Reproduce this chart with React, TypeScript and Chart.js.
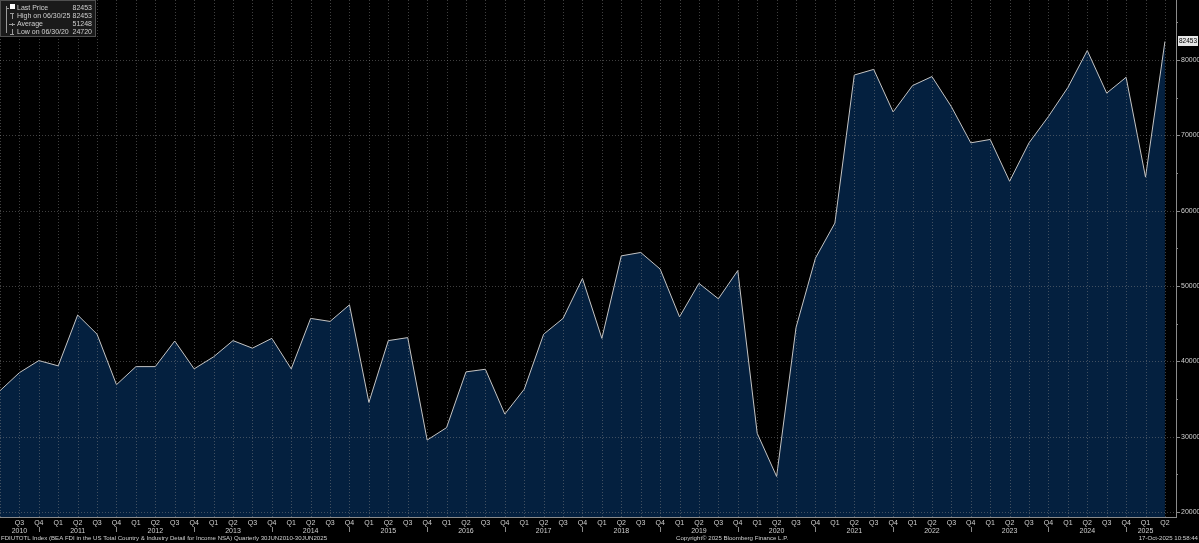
import React, { useEffect, useRef } from "react";
import Chart from "chart.js/auto";

const quarters: string[] = [
  "Q2 2010", "Q3 2010", "Q4 2010",
  "Q1 2011", "Q2 2011", "Q3 2011", "Q4 2011",
  "Q1 2012", "Q2 2012", "Q3 2012", "Q4 2012",
  "Q1 2013", "Q2 2013", "Q3 2013", "Q4 2013",
  "Q1 2014", "Q2 2014", "Q3 2014", "Q4 2014",
  "Q1 2015", "Q2 2015", "Q3 2015", "Q4 2015",
  "Q1 2016", "Q2 2016", "Q3 2016", "Q4 2016",
  "Q1 2017", "Q2 2017", "Q3 2017", "Q4 2017",
  "Q1 2018", "Q2 2018", "Q3 2018", "Q4 2018",
  "Q1 2019", "Q2 2019", "Q3 2019", "Q4 2019",
  "Q1 2020", "Q2 2020", "Q3 2020", "Q4 2020",
  "Q1 2021", "Q2 2021", "Q3 2021", "Q4 2021",
  "Q1 2022", "Q2 2022", "Q3 2022", "Q4 2022",
  "Q1 2023", "Q2 2023", "Q3 2023", "Q4 2023",
  "Q1 2024", "Q2 2024", "Q3 2024", "Q4 2024",
  "Q1 2025", "Q2 2025",
];

const values: number[] = [
  36100, 38500, 40100,
  39400, 46150, 43600, 36900,
  39300, 39300, 42700, 39000,
  40600, 42750, 41750, 43050,
  39000, 45700, 45300, 47500,
  34550, 42750, 43150, 29550,
  31200, 38600, 38950, 33000,
  36300, 43600, 45700, 51000,
  43050, 54000, 54450, 52250,
  45900, 50350, 48300, 52050,
  30450, 24720, 44500, 53700,
  58350, 78000, 78750, 73100,
  76600, 77800, 73800, 69000,
  69450, 63900, 69000, 72500,
  76350, 81250, 75600, 77700,
  64450, 82453,
];

const yTicks: number[] = [20000, 30000, 40000, 50000, 60000, 70000, 80000];
const yMinorTicks: number[] = [25000, 35000, 45000, 55000, 65000, 75000, 85000];

const legendRows: { label: string; value: string }[] = [
  { label: "Last Price", value: "82453" },
  { label: "High on 06/30/25", value: "82453" },
  { label: "Average", value: "51248" },
  { label: "Low on 06/30/20", value: "24720" },
];

const footerLeft =
  "FDIUTOTL Index (BEA FDI in the US Total Country & Industry Detail for Income NSA) Quarterly 30JUN2010-30JUN2025";
const footerCenter = "Copyright\u00a9 2025 Bloomberg Finance L.P.";
const footerRight = "17-Oct-2025 10:58:44";

const FONT = "'Liberation Sans', Arial, sans-serif";
const TEXT = "#d0d0d0";
const AXIS = "#8a8a8a";

const decorPlugin = {
  id: "bbgDecor",
  beforeDraw(chart: any) {
    const ctx = chart.ctx;
    ctx.save();
    ctx.fillStyle = "#000000";
    ctx.fillRect(0, 0, chart.width, chart.height);
    ctx.restore();
  },
  afterDatasetsDraw(chart: any) {
    const ctx = chart.ctx;
    const xs = chart.scales.x;
    const ys = chart.scales.y;
    const area = chart.chartArea;
    ctx.save();
    ctx.strokeStyle = "rgba(140,140,140,0.45)";
    ctx.lineWidth = 1;
    ctx.setLineDash([1, 2]);
    for (let i = 0; i < quarters.length; i++) {
      const x = Math.round(xs.getPixelForValue(i)) + 0.5;
      ctx.beginPath();
      ctx.moveTo(x, area.top);
      ctx.lineTo(x, area.bottom);
      ctx.stroke();
    }
    for (const t of yTicks) {
      const y = Math.round(ys.getPixelForValue(t)) + 0.5;
      ctx.beginPath();
      ctx.moveTo(area.left, y);
      ctx.lineTo(area.right, y);
      ctx.stroke();
    }
    ctx.restore();
  },
  afterDraw(chart: any) {
    const ctx = chart.ctx;
    const xs = chart.scales.x;
    const ys = chart.scales.y;
    const area = chart.chartArea;
    ctx.save();
    ctx.strokeStyle = AXIS;
    ctx.lineWidth = 1;
    ctx.beginPath();
    ctx.moveTo(area.right + 0.5, area.top);
    ctx.lineTo(area.right + 0.5, area.bottom + 1);
    ctx.moveTo(area.left, area.bottom + 0.5);
    ctx.lineTo(area.right, area.bottom + 0.5);
    ctx.stroke();

    ctx.font = `7px ${FONT}`;
    ctx.fillStyle = TEXT;
    ctx.textBaseline = "middle";
    ctx.textAlign = "left";
    for (const t of yTicks) {
      const y = Math.round(ys.getPixelForValue(t)) + 0.5;
      ctx.beginPath();
      ctx.moveTo(area.right, y);
      ctx.lineTo(area.right + 4, y);
      ctx.stroke();
      ctx.fillText(String(t), area.right + 5, y);
    }
    for (const t of yMinorTicks) {
      const y = Math.round(ys.getPixelForValue(t)) + 0.5;
      if (y < area.top || y > area.bottom) continue;
      ctx.beginPath();
      ctx.moveTo(area.right, y);
      ctx.lineTo(area.right + 2, y);
      ctx.stroke();
    }

    // last value label
    const last = values[values.length - 1];
    const ly = Math.round(ys.getPixelForValue(last));
    const lbl = String(last);
    ctx.font = `6.5px ${FONT}`;
    ctx.fillStyle = "#e6e6e6";
    ctx.fillRect(area.right + 2, ly - 5, chart.width - area.right - 3, 10);
    ctx.fillStyle = "#000000";
    ctx.textAlign = "center";
    ctx.fillText(lbl, (area.right + 2 + chart.width - 1) / 2, ly + 0.5);

    // x labels
    ctx.font = `7px ${FONT}`;
    ctx.fillStyle = TEXT;
    ctx.textAlign = "center";
    ctx.textBaseline = "middle";
    for (let i = 1; i < quarters.length; i++) {
      const [q, yr] = quarters[i].split(" ");
      const x = xs.getPixelForValue(i);
      ctx.fillText(q, x, area.bottom + 6);
      if (q === "Q4") {
        ctx.beginPath();
        ctx.moveTo(Math.round(x) + 0.5, area.bottom + 10);
        ctx.lineTo(Math.round(x) + 0.5, area.bottom + 15);
        ctx.stroke();
      }
      const isLast = i === quarters.length - 2;
      if ((q === "Q2" && i !== quarters.length - 1) || i === 1 || isLast) {
        ctx.fillText(yr, x, area.bottom + 14);
      }
    }

    // footer
    ctx.font = `6.1px ${FONT}`;
    ctx.textBaseline = "middle";
    ctx.textAlign = "left";
    ctx.fillText(footerLeft, 1, chart.height - 5);
    ctx.fillText(footerCenter, 676, chart.height - 5);
    ctx.textAlign = "right";
    ctx.fillText(footerRight, chart.width - 1, chart.height - 5);

    // legend box
    ctx.fillStyle = "#1a1a1a";
    ctx.fillRect(0, 0, 96, 37);
    ctx.strokeStyle = "#505050";
    ctx.strokeRect(0.5, 0.5, 95, 36);
    ctx.font = `7px ${FONT}`;
    ctx.textBaseline = "middle";
    legendRows.forEach((r, k) => {
      const y = 8 + k * 8;
      ctx.fillStyle = TEXT;
      ctx.textAlign = "left";
      ctx.fillText(r.label, 17, y);
      ctx.textAlign = "right";
      ctx.fillText(r.value, 92, y);
    });
    ctx.fillStyle = "#ffffff";
    ctx.fillRect(10, 4, 5, 5);
    ctx.strokeStyle = "#9a9a9a";
    ctx.beginPath();
    ctx.moveTo(6.5, 6);
    ctx.lineTo(6.5, 33);
    ctx.moveTo(6.5, 8.5);
    ctx.lineTo(9, 8.5);
    ctx.moveTo(10, 13.5);
    ctx.lineTo(14, 13.5);
    ctx.moveTo(12.5, 13.5);
    ctx.lineTo(12.5, 19);
    ctx.moveTo(9, 24.5);
    ctx.lineTo(15, 24.5);
    ctx.moveTo(12.5, 23);
    ctx.lineTo(12.5, 26);
    ctx.moveTo(12.5, 29);
    ctx.lineTo(12.5, 34.5);
    ctx.moveTo(10, 34.5);
    ctx.lineTo(14, 34.5);
    ctx.stroke();
    ctx.restore();
  },
};

export default function App() {
  const ref = useRef<HTMLCanvasElement | null>(null);
  useEffect(() => {
    document.body.style.margin = "0";
    document.body.style.background = "#000";
    const canvas = ref.current;
    if (!canvas) return;
    const chart = new Chart(canvas, {
      type: "line",
      data: {
        datasets: [
          {
            label: "Last Price",
            data: values.map((v, i) => ({ x: i, y: v })),
            borderColor: "#c4c4c4",
            borderWidth: 1,
            backgroundColor: "#04203f",
            fill: "start",
            pointRadius: 0,
            tension: 0,
          },
        ],
      },
      options: {
        responsive: false,
        animation: false,
        devicePixelRatio: 1,
        layout: { padding: { left: 0, right: 23, top: 0, bottom: 26 } },
        plugins: {
          legend: { display: false },
          tooltip: { enabled: false },
        },
        scales: {
          x: { type: "linear", min: 0, max: 60.57, display: false },
          y: { type: "linear", min: 19340, max: 87960, display: false },
        },
      },
      plugins: [decorPlugin],
    });
    return () => chart.destroy();
  }, []);
  return (
    <canvas
      ref={ref}
      width={1199}
      height={543}
      style={{ display: "block", width: 1199, height: 543 }}
    />
  );
}
